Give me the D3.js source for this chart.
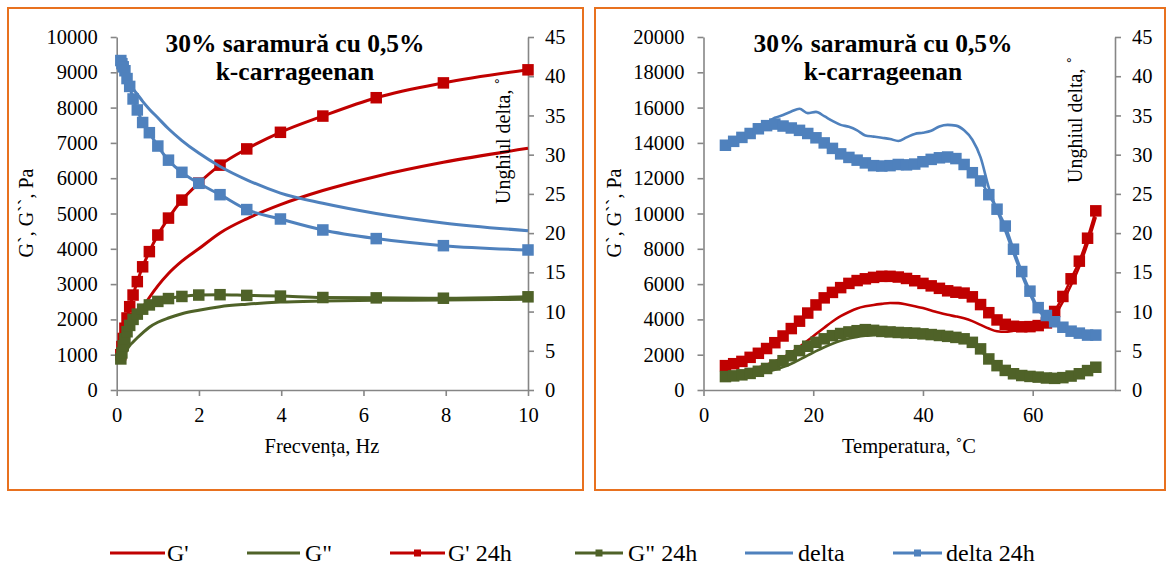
<!DOCTYPE html>
<html><head><meta charset="utf-8">
<script src="https://cdn.jsdelivr.net/npm/d3@7/dist/d3.min.js"></script>
<style>
body{margin:0;background:#fff}
svg{display:block}
text{font-family:"Liberation Serif","Times New Roman",serif}
</style>
</head><body>
<svg id="c" width="1167" height="569"></svg>
<script>
// ---------- Left chart: frequency sweep ----------
const freq = [0.1,0.126,0.158,0.2,0.251,0.316,0.398,0.501,0.631,0.794,1,1.259,1.585,1.995,2.512,3.162,3.981,5.012,6.31,7.943,10];
const fGp    = [920,1040,1170,1310,1470,1650,1850,2080,2330,2620,2950,3300,3650,4000,4450,4850,5250,5650,6050,6450,6846];
const fGpp   = [820,880,960,1050,1150,1260,1360,1480,1620,1780,1920,2040,2160,2260,2360,2430,2490,2520,2540,2550,2570];
const fGp24  = [1000,1230,1460,1750,2040,2360,2690,3070,3490,3920,4390,4870,5380,5860,6370,6830,7300,7760,8280,8700,9070];
const fGpp24 = [880,1050,1250,1450,1650,1830,2000,2150,2290,2410,2510,2590,2650,2690,2700,2680,2660,2620,2610,2600,2640];
const fDelta   = [42.0,41.5,40.9,40.3,39.7,39.1,38.4,37.7,36.8,35.8,34.7,33.3,31.8,30.2,28.5,26.8,25.1,23.8,22.5,21.3,20.3];
const fDelta24 = [42.0,41.6,41.2,40.7,39.7,38.7,37.1,35.7,34.1,32.8,31.1,29.3,27.75,26.35,24.9,23.0,21.8,20.4,19.3,18.4,17.85];

// ---------- Right chart: temperature sweep ----------
const temp = [4,5.5,7,8.5,10,11.5,13,14.5,16,17.5,19,20.5,22,23.5,25,26.5,28,29.5,31,32.5,34,35.5,37,38.5,40,41.5,43,44.5,46,47.5,49,50.5,52,53.5,55,56.5,58,59.5,61,62.5,64,65.5,67,68.5,70,71.5];
const tGp    = [850,920,1010,1130,1270,1430,1620,1850,2120,2450,2800,3170,3530,3880,4180,4420,4620,4740,4820,4880,4930,4920,4840,4750,4640,4510,4370,4260,4170,4060,3900,3690,3480,3330,3300,3360,3420,3470,3530,3650,4200,5000,5950,7000,8300,9800];
const tGpp   = [600,650,720,800,900,1010,1140,1300,1490,1720,1960,2200,2420,2620,2790,2920,3010,3070,3110,3150,3180,3190,3180,3160,3130,3090,3050,2990,2910,2800,2580,2240,1740,1360,1090,900,800,750,710,660,640,680,770,900,1080,1270];
const tGp24  = [1380,1490,1620,1850,2080,2350,2680,3060,3480,3900,4360,4820,5220,5530,5800,6040,6200,6300,6380,6440,6440,6400,6320,6190,6040,5900,5760,5620,5540,5490,5280,4840,4380,3970,3720,3610,3580,3590,3650,3800,4450,5300,6300,7300,8600,10150];
const tGpp24 = [760,800,860,940,1060,1220,1420,1660,1940,2230,2480,2700,2900,3080,3200,3290,3360,3420,3380,3320,3290,3260,3240,3220,3180,3140,3090,3040,2980,2900,2700,2330,1760,1380,1110,920,820,770,730,680,660,700,790,920,1100,1290];
const tDelta   = [31.2,31.7,32.2,32.7,33.3,34.05,34.7,35.05,35.5,35.85,35.3,35.45,34.9,34.3,33.8,33.55,33.1,32.45,32.3,32.15,32.0,31.75,32.2,32.65,32.8,33.05,33.6,33.8,33.7,33.1,31.9,29.65,25.8,22.9,20.3,17.45,14.7,12.2,10.2,9.2,8.4,7.8,7.3,7.05,6.9,6.9];
const tDelta24 = [31.2,31.7,32.2,32.7,33.3,33.7,33.9,33.65,33.4,33.1,32.7,32.15,31.5,30.8,30.1,29.65,29.3,28.95,28.6,28.55,28.6,28.75,28.7,28.8,29.1,29.4,29.6,29.7,29.5,28.75,27.7,26.65,24.9,23.05,20.9,17.95,15.1,12.6,10.5,9.5,8.7,8.0,7.5,7.25,7.0,7.0];

// ---------- Ticks, labels ----------
const fTicks = [0,2,4,6,8,10];
const tTicks = [0,20,40,60];
const gTicksL = [0,1000,2000,3000,4000,5000,6000,7000,8000,9000,10000];
const gTicksR = [0,2000,4000,6000,8000,10000,12000,14000,16000,18000,20000];
const dTicks = [0,5,10,15,20,25,30,35,40,45];
const titleLines = ["30% saramură cu 0,5%","k-carrageenan"];
const yTitle = "G`, G``, Pa";
const y2Title = "Unghiul delta, ˚";
const legendNames = ["G'","G\"","G' 24h","G\" 24h","delta","delta 24h"];

const RED = "#C00000", GREEN = "#4F6228", BLUE = "#4F81BD", AX = "#868686";
const colors = [RED, GREEN, RED, GREEN, BLUE, BLUE];
const hasMarker = [false,false,true,true,false,true];
const FONT = '"Liberation Serif","Times New Roman",serif';

const svg = d3.select("#c");
svg.append("rect").attr("width",1167).attr("height",569).attr("fill","#fff");

function styleAxis(g){
  g.attr("font-family",FONT);
  g.select(".domain").attr("stroke",AX).attr("stroke-width",1.6);
  g.selectAll(".tick line").attr("stroke",AX).attr("stroke-width",1.6);
  g.selectAll(".tick text").attr("fill","#000").style("font-size","20.5px").style("font-family",FONT);
}

function panel(o){
  const g = svg.append("g");
  g.append("rect").attr("x",o.box[0]).attr("y",o.box[1]).attr("width",o.box[2]).attr("height",o.box[3])
    .attr("fill","none").attr("stroke","#E8711F").attr("stroke-width",2);
  const x = d3.scaleLinear().domain(o.xDom).range([o.x0,o.x1]);
  const yL = d3.scaleLinear().domain(o.yDom).range([390,37]);
  const yR = d3.scaleLinear().domain([0,45]).range([390,37]);

  g.append("g").attr("transform","translate(0,390)")
    .call(d3.axisBottom(x).tickValues(o.xTicks).tickSize(6).tickSizeOuter(0).tickPadding(11).tickFormat(d3.format("d")))
    .call(styleAxis);
  g.append("g").attr("transform",`translate(${o.x0},0)`)
    .call(d3.axisLeft(yL).tickValues(o.yTicks).tickSize(6).tickSizeOuter(0).tickPadding(13).tickFormat(d3.format("d")))
    .call(styleAxis);
  g.append("g").attr("transform",`translate(${o.x1},0)`)
    .call(d3.axisRight(yR).tickValues(dTicks).tickSize(6).tickSizeOuter(0).tickPadding(11).tickFormat(d3.format("d")))
    .call(styleAxis);

  o.series.forEach((s,i)=>{
    const ys = i>=4 ? yR : yL;
    const pts = s.x.map((xv,k)=>[x(xv), ys(s.y[k])]);
    const line = d3.line().curve(d3.curveMonotoneX);
    g.append("path").attr("d",line(pts)).attr("fill","none")
      .attr("stroke",colors[i]).attr("stroke-width",o.lw).attr("stroke-linejoin","round");
    if(hasMarker[i]){
      g.append("g").selectAll("rect").data(pts).join("rect")
        .attr("x",d=>d[0]-o.ms/2).attr("y",d=>d[1]-o.ms/2)
        .attr("width",o.ms).attr("height",o.ms).attr("fill",colors[i]);
    }
  });

  titleLines.forEach((t,k)=>{
    g.append("text").attr("x",o.titleX).attr("y",52+k*28).attr("text-anchor","middle")
      .style("font-family",FONT).style("font-size","25.5px").style("font-weight","bold").text(t);
  });
  g.append("text").attr("transform",`translate(${o.yTitleX},213) rotate(-90)`).attr("text-anchor","middle")
    .style("font-family",FONT).style("font-size","20px").text(yTitle);
  g.append("text").attr("transform",`translate(${o.y2TitleX},${o.y2TitleY}) rotate(-90)`).attr("text-anchor","middle")
    .style("font-family",FONT).style("font-size","20px").text(y2Title);
  g.append("text").attr("x",o.xTitleX).attr("y",453).attr("text-anchor","middle")
    .style("font-family",FONT).style("font-size","20.5px").text(o.xTitle);
}

panel({
  box:[8,8,575,482], xDom:[0,10], x0:116.7, x1:528, yDom:[0,10000],
  xTicks:fTicks, yTicks:gTicksL, lw:3, ms:11.5,
  titleX:295, yTitleX:33, y2TitleX:510, y2TitleY:141, xTitleX:322, xTitle:"Frecvența, Hz",
  series:[{x:freq,y:fGp},{x:freq,y:fGpp},{x:freq,y:fGp24},{x:freq,y:fGpp24},{x:freq,y:fDelta},{x:freq,y:fDelta24}]
});
panel({
  box:[595,8,570,482], xDom:[0,75], x0:703.5, x1:1115, yDom:[0,20000],
  xTicks:tTicks, yTicks:gTicksR, lw:2.6, ms:11.5,
  titleX:883, yTitleX:621, y2TitleX:1082, y2TitleY:120, xTitleX:909, xTitle:"Temperatura, ˚C",
  series:[{x:temp,y:tGp},{x:temp,y:tGpp},{x:temp,y:tGp24},{x:temp,y:tGpp24},{x:temp,y:tDelta},{x:temp,y:tDelta24}]
});

// legend
const legX = [[110,165,167],[247,300,305],[390,445,448],[575,623,628],[745,793,798],[893,942,946]];
const lg = svg.append("g");
legendNames.forEach((n,i)=>{
  const [a,b,t] = legX[i];
  lg.append("line").attr("x1",a).attr("x2",b).attr("y1",553).attr("y2",553)
    .attr("stroke",colors[i]).attr("stroke-width",3);
  if(hasMarker[i]) lg.append("rect").attr("x",(a+b)/2-3.5).attr("y",549.5).attr("width",7).attr("height",7).attr("fill",colors[i]);
  lg.append("text").attr("x",t).attr("y",561).style("font-family",FONT).style("font-size","24px").text(n);
});
</script>
</body></html>
